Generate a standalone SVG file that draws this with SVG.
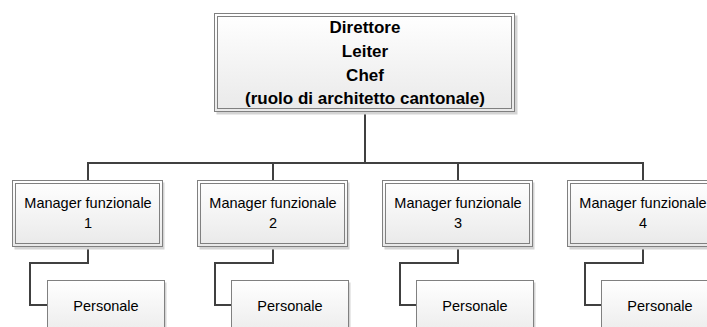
<svg xmlns="http://www.w3.org/2000/svg" width="707" height="327" viewBox="0 0 707 327">
  <defs>
    <linearGradient id="fillGrad" x1="0" y1="0" x2="0" y2="1">
      <stop offset="0" stop-color="#ffffff"/>
      <stop offset="1" stop-color="#e9e9e9"/>
    </linearGradient>
  </defs>
  <style>
    .shadow { fill: #d4d4d4; }
    .outer { fill: url(#fillGrad); stroke: #808080; stroke-width: 1; }
    .inner { fill: none; stroke: #808080; stroke-width: 1; }
    .conn { fill: none; stroke: #404040; stroke-width: 2; }
    .t { font-family: "Liberation Sans", Arial, sans-serif; font-size: 14.5px; fill: #000; text-anchor: middle; }
    .tb { font-family: "Liberation Sans", Arial, sans-serif; font-size: 17px; font-weight: bold; fill: #000; text-anchor: middle; }
  </style>

  <g id="connectors">
    <path class="conn" d="M365,112 V163"/>
    <path class="conn" d="M88,180 V163 H643 V180"/>
    <path class="conn" d="M273,163 V180"/>
    <path class="conn" d="M458,163 V180"/>
    <path class="conn" d="M88,247 V263 H30 V305 H47"/>
    <path class="conn" d="M273,247 V263 H215 V305 H232"/>
    <path class="conn" d="M458,247 V263 H400 V305 H417"/>
    <path class="conn" d="M643,247 V263 H585 V305 H602"/>
  </g>

  <g id="director">
    <rect class="shadow" x="216.5" y="15.5" width="301" height="99"/>
    <rect class="outer" x="214.5" y="13.5" width="300" height="98"/>
    <rect class="inner" x="217.5" y="16.5" width="294" height="92"/>
    <text class="tb" x="365" y="33">Direttore</text>
    <text class="tb" x="365" y="57">Leiter</text>
    <text class="tb" x="365" y="81">Chef</text>
    <text class="tb" x="365" y="104">(ruolo di architetto cantonale)</text>
  </g>

  <g id="manager1">
    <rect class="shadow" x="14.5" y="182.5" width="150" height="67"/>
    <rect class="outer" x="12.5" y="180.5" width="150" height="66"/>
    <rect class="inner" x="15.5" y="183.5" width="144" height="60"/>
    <text class="t" x="88" y="208">Manager funzionale</text>
    <text class="t" x="88" y="228">1</text>
  </g>
  <g id="manager2">
    <rect class="shadow" x="199.5" y="182.5" width="150" height="67"/>
    <rect class="outer" x="197.5" y="180.5" width="150" height="66"/>
    <rect class="inner" x="200.5" y="183.5" width="144" height="60"/>
    <text class="t" x="273" y="208">Manager funzionale</text>
    <text class="t" x="273" y="228">2</text>
  </g>
  <g id="manager3">
    <rect class="shadow" x="384.5" y="182.5" width="150" height="67"/>
    <rect class="outer" x="382.5" y="180.5" width="150" height="66"/>
    <rect class="inner" x="385.5" y="183.5" width="144" height="60"/>
    <text class="t" x="458" y="208">Manager funzionale</text>
    <text class="t" x="458" y="228">3</text>
  </g>
  <g id="manager4">
    <rect class="shadow" x="569.5" y="182.5" width="150" height="67"/>
    <rect class="outer" x="567.5" y="180.5" width="150" height="66"/>
    <rect class="inner" x="570.5" y="183.5" width="144" height="60"/>
    <text class="t" x="643" y="208">Manager funzionale</text>
    <text class="t" x="643" y="228">4</text>
  </g>

  <g id="staff1">
    <rect class="shadow" x="49.5" y="282.5" width="117" height="60"/>
    <rect class="outer" x="47.5" y="280.5" width="117" height="60"/>
    <text class="t" x="106" y="311">Personale</text>
  </g>
  <g id="staff2">
    <rect class="shadow" x="233.5" y="282.5" width="117" height="60"/>
    <rect class="outer" x="231.5" y="280.5" width="117" height="60"/>
    <text class="t" x="290" y="311">Personale</text>
  </g>
  <g id="staff3">
    <rect class="shadow" x="418.5" y="282.5" width="117" height="60"/>
    <rect class="outer" x="416.5" y="280.5" width="117" height="60"/>
    <text class="t" x="475" y="311">Personale</text>
  </g>
  <g id="staff4">
    <rect class="shadow" x="603.5" y="282.5" width="117" height="60"/>
    <rect class="outer" x="601.5" y="280.5" width="117" height="60"/>
    <text class="t" x="660" y="311">Personale</text>
  </g>
</svg>
